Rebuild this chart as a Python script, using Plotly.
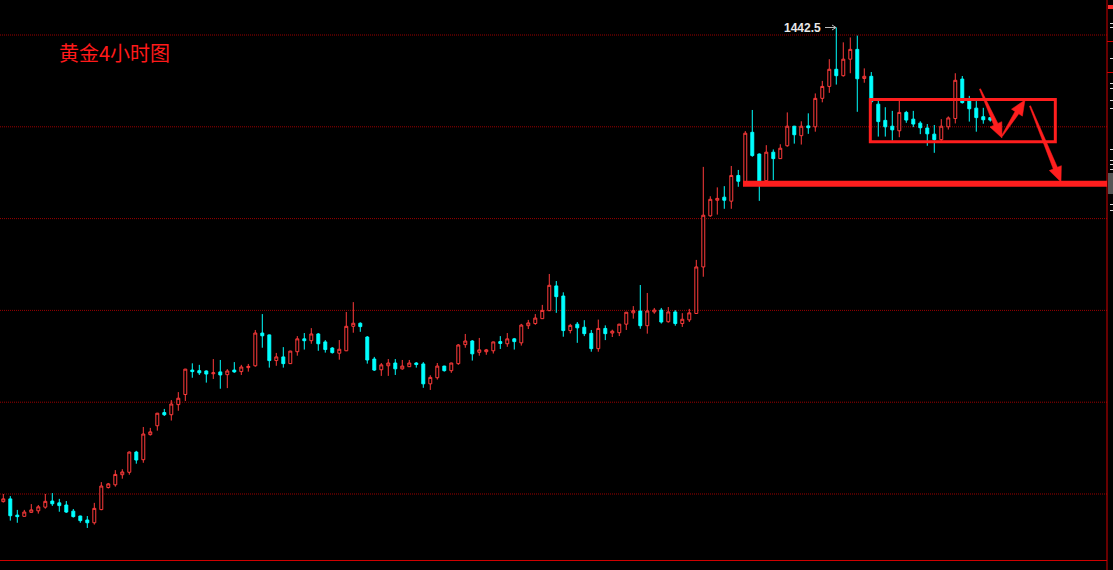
import plotly.graph_objects as go

W, H = 1113, 570

# ---------------- data (gold 4h candles) ----------------
opens = [1287.5, 1288.4, 1283.1, 1282.7, 1284.0, 1284.5, 1285.7, 1287.7, 1287.1, 1286.4,
         1284.4, 1282.8, 1281.5, 1280.6, 1284.9, 1292.1, 1293.0, 1296.3, 1297.1, 1303.7,
         1301.2, 1309.4, 1312.3, 1316.6, 1315.9, 1319.2, 1322.5, 1330.5, 1330.3, 1330.2,
         1329.3, 1329.9, 1329.0, 1330.5, 1330.0, 1331.3, 1331.9, 1342.6, 1342.0, 1333.6,
         1334.8, 1332.6, 1336.5, 1340.7, 1340.1, 1342.3, 1339.7, 1337.7, 1336.0, 1336.8,
         1344.8, 1345.8, 1341.3, 1334.1, 1330.6, 1331.9, 1332.8, 1330.9, 1331.6, 1332.8,
         1332.5, 1326.0, 1328.0, 1331.8, 1330.3, 1332.6, 1338.8, 1340.0, 1336.3, 1336.5,
         1336.8, 1339.8, 1339.1, 1340.7, 1339.4, 1345.0, 1345.7, 1347.3, 1349.9, 1358.0,
         1354.7, 1343.4, 1345.5, 1344.5, 1342.5, 1337.5, 1344.1, 1342.6, 1342.7, 1345.5,
         1349.2, 1349.8, 1345.0, 1349.5, 1350.1, 1346.3, 1349.5, 1345.7, 1346.9, 1349.0,
         1364.2, 1380.9, 1386.0, 1387.0, 1385.7, 1394.1, 1391.6, 1408.2, 1401.1, 1392.4,
         1401.7, 1399.6, 1403.8, 1410.2, 1407.1, 1410.3, 1410.0, 1419.3, 1423.2, 1428.8,
         1426.7, 1432.1, 1435.3, 1425.8, 1426.5, 1417.4, 1412.1, 1410.2, 1408.7, 1414.7,
         1412.5, 1411.2, 1409.6, 1407.6, 1405.8, 1410.0, 1412.7, 1425.6, 1418.4, 1416.1,
         1413.3, 1413.0]
highs = [1290.0, 1289.3, 1284.8, 1284.8, 1286.7, 1286.4, 1290.0, 1290.3, 1288.4, 1287.7,
         1285.1, 1282.9, 1282.8, 1287.1, 1293.9, 1293.6, 1297.8, 1298.1, 1303.9, 1304.1,
         1311.9, 1311.6, 1316.5, 1317.8, 1320.7, 1323.3, 1330.9, 1332.7, 1332.2, 1330.4,
         1334.1, 1333.8, 1330.8, 1333.1, 1332.2, 1332.5, 1343.6, 1348.8, 1342.1, 1336.1,
         1338.0, 1336.8, 1341.6, 1342.6, 1344.2, 1342.6, 1340.3, 1338.0, 1340.3, 1349.5,
         1352.7, 1346.1, 1341.6, 1334.8, 1332.8, 1334.1, 1334.1, 1333.8, 1333.8, 1333.1,
         1333.1, 1328.8, 1332.8, 1331.9, 1332.9, 1339.0, 1342.3, 1340.3, 1341.0, 1337.4,
         1339.8, 1341.6, 1342.6, 1341.0, 1345.6, 1346.9, 1348.8, 1351.8, 1361.9, 1359.6,
         1355.9, 1345.6, 1346.2, 1346.8, 1343.6, 1347.0, 1345.1, 1343.7, 1345.6, 1349.5,
         1351.4, 1358.3, 1355.7, 1350.8, 1350.8, 1351.1, 1350.1, 1349.1, 1350.5, 1366.5,
         1396.9, 1387.3, 1390.2, 1390.6, 1397.2, 1395.9, 1408.6, 1415.5, 1401.3, 1404.0,
         1402.6, 1404.3, 1414.7, 1410.3, 1411.8, 1414.4, 1420.9, 1425.0, 1432.1, 1442.5,
         1437.6, 1439.2, 1439.8, 1429.1, 1427.9, 1418.8, 1416.4, 1415.2, 1418.7, 1415.2,
         1415.2, 1411.8, 1410.9, 1410.6, 1412.5, 1413.4, 1427.5, 1426.6, 1420.1, 1418.4,
         1416.2, 1413.1]
lows = [1287.2, 1281.3, 1280.6, 1282.6, 1283.9, 1283.6, 1285.2, 1286.1, 1284.2, 1283.8,
        1282.3, 1280.6, 1278.9, 1280.0, 1284.7, 1291.8, 1292.4, 1295.0, 1296.3, 1299.9,
        1300.2, 1309.1, 1310.7, 1315.5, 1314.0, 1317.2, 1320.4, 1328.0, 1328.9, 1326.4,
        1327.6, 1324.4, 1324.6, 1329.6, 1328.9, 1330.0, 1331.6, 1337.8, 1331.3, 1331.9,
        1331.3, 1332.5, 1335.2, 1337.2, 1339.1, 1336.8, 1336.2, 1335.9, 1333.9, 1336.7,
        1342.7, 1343.0, 1332.6, 1330.2, 1328.6, 1328.6, 1328.9, 1330.6, 1331.5, 1331.3,
        1324.7, 1324.0, 1327.4, 1330.0, 1329.6, 1332.2, 1337.8, 1333.6, 1335.2, 1335.5,
        1335.9, 1337.4, 1338.1, 1337.2, 1338.5, 1343.9, 1345.3, 1347.2, 1349.8, 1349.2,
        1341.4, 1342.5, 1339.4, 1341.6, 1336.5, 1336.5, 1340.3, 1341.3, 1341.6, 1343.6,
        1347.3, 1344.0, 1342.4, 1348.9, 1345.7, 1346.0, 1345.0, 1344.6, 1346.2, 1348.9,
        1361.0, 1380.6, 1381.3, 1383.2, 1383.2, 1390.4, 1390.7, 1400.2, 1385.8, 1392.3,
        1392.6, 1399.5, 1403.5, 1404.5, 1404.2, 1407.7, 1408.4, 1418.0, 1421.1, 1423.8,
        1426.4, 1427.5, 1414.9, 1424.4, 1417.4, 1406.8, 1406.8, 1405.5, 1406.6, 1411.3,
        1409.9, 1407.6, 1403.8, 1401.5, 1405.2, 1409.1, 1411.1, 1417.6, 1411.7, 1408.4,
        1411.0, 1411.7]
closes = [1288.4, 1282.9, 1282.6, 1284.1, 1284.8, 1285.8, 1287.6, 1286.8, 1286.2, 1284.1,
          1282.6, 1281.3, 1280.6, 1285.3, 1292.6, 1293.3, 1296.4, 1297.2, 1303.7, 1301.1,
          1309.6, 1310.3, 1316.4, 1315.9, 1319.4, 1321.3, 1330.8, 1330.0, 1329.6, 1329.2,
          1329.6, 1328.9, 1330.2, 1329.9, 1331.5, 1331.7, 1342.6, 1341.7, 1333.6, 1334.8,
          1332.6, 1336.7, 1340.7, 1340.1, 1342.3, 1339.1, 1337.2, 1336.2, 1337.3, 1344.8,
          1345.8, 1344.7, 1333.8, 1330.5, 1332.2, 1332.8, 1330.9, 1331.8, 1332.8, 1332.3,
          1326.0, 1328.1, 1331.8, 1330.3, 1332.8, 1338.7, 1340.0, 1335.8, 1337.1, 1337.1,
          1339.7, 1339.2, 1340.7, 1339.8, 1345.2, 1345.9, 1347.5, 1350.0, 1358.2, 1354.5,
          1343.4, 1345.1, 1344.3, 1342.4, 1337.5, 1344.1, 1342.4, 1343.2, 1345.5, 1349.4,
          1349.9, 1345.0, 1349.8, 1350.1, 1346.2, 1349.5, 1345.7, 1347.1, 1349.2, 1364.2,
          1381.1, 1386.3, 1386.6, 1386.0, 1394.1, 1392.2, 1407.9, 1400.6, 1392.2, 1401.7,
          1399.6, 1403.0, 1410.2, 1407.4, 1410.2, 1409.7, 1419.3, 1423.2, 1428.8, 1426.7,
          1432.1, 1435.3, 1425.7, 1426.5, 1418.2, 1411.7, 1410.0, 1409.0, 1414.7, 1412.2,
          1410.9, 1409.7, 1407.7, 1405.8, 1410.2, 1412.9, 1425.2, 1417.9, 1415.9, 1413.0,
          1412.3, 1412.2]
bar_index = list(range(len(opens)))

grid_prices = [1440, 1410, 1380, 1350, 1320, 1290]
title_text = "黄金4小时图"
peak_label = "1442.5"
peak_index = 119
peak_price = 1442.5

# user drawings (in price / bar units)
support_price = 1391.4
support_from_bar = 105.67
box_bars = (123.86, 150.29)
box_prices = (1405.1, 1418.9)

# ---------------- view mapping ----------------
X_RANGE = [-0.471, 158.53]
Y_RANGE = [1265.16, 1451.44]

RED = "#FF3B3B"
CYAN = "#00FFFF"
DRAW = "#FF1E1E"
GRID = "#9A0000"


def px(x, y):
    return x / W, 1 - y / H


def arrow_path(x0, y0, x1, y1, w0=1.2, w1=4.5, head_len=15, head_w=6.5):
    import math
    dx, dy = x1 - x0, y1 - y0
    L = math.hypot(dx, dy)
    ux, uy = dx / L, dy / L
    nx, ny = -uy, ux
    neck = (x1 - ux * head_len, y1 - uy * head_len)
    pts = [
        (x0 + nx * w0 / 2, y0 + ny * w0 / 2),
        (neck[0] + nx * w1 / 2, neck[1] + ny * w1 / 2),
        (neck[0] + nx * head_w, neck[1] + ny * head_w),
        (x1, y1),
        (neck[0] - nx * head_w, neck[1] - ny * head_w),
        (neck[0] - nx * w1 / 2, neck[1] - ny * w1 / 2),
        (x0 - nx * w0 / 2, y0 - ny * w0 / 2),
    ]
    s = ""
    for i, (a, b) in enumerate(pts):
        pxx, pyy = px(a, b)
        s += ("M" if i == 0 else "L") + f"{pxx:.5f},{pyy:.5f} "
    return s + "Z"


fig = go.Figure()
fig.add_trace(go.Candlestick(
    x=bar_index, open=opens, high=highs, low=lows, close=closes,
    increasing=dict(line=dict(color=RED, width=1), fillcolor="#000000"),
    decreasing=dict(line=dict(color=CYAN, width=1), fillcolor=CYAN),
    whiskerwidth=0, hoverinfo="skip", showlegend=False,
))

shapes = []
axis_right = 1107 / W
# grid lines
for g in grid_prices:
    shapes.append(dict(type="line", xref="paper", yref="y", x0=0, x1=axis_right, y0=g, y1=g,
                       line=dict(color=GRID, width=1, dash="1px,1px"), layer="below"))
# frame lines (bottom and right axis)
shapes.append(dict(type="line", xref="paper", yref="paper", x0=0, x1=axis_right,
                   y0=px(0, 560.5)[1], y1=px(0, 560.5)[1], line=dict(color="#D00000", width=1)))
shapes.append(dict(type="line", xref="paper", yref="paper", x0=axis_right, x1=axis_right,
                   y0=0, y1=1, line=dict(color="#D00000", width=1)))
for yy in (41.5, 72.5):
    shapes.append(dict(type="line", xref="paper", yref="paper", x0=axis_right, x1=1,
                       y0=px(0, yy)[1], y1=px(0, yy)[1], line=dict(color="#D00000", width=1)))
shapes.append(dict(type="rect", xref="paper", yref="paper", x0=1108 / W, x1=1,
                   y0=px(0, 9)[1], y1=px(0, 5)[1], fillcolor="#FF3030", line=dict(width=0)))
shapes.append(dict(type="rect", xref="paper", yref="paper", x0=1108 / W, x1=1,
                   y0=px(0, 194)[1], y1=px(0, 173)[1], fillcolor="#555555", line=dict(width=0)))
for yy in (23.5, 27.5, 58.5, 83.5, 88.5, 100.5, 108.5, 149.5, 160.5, 164.5, 169.5, 204.5, 210.5):
    shapes.append(dict(type="line", xref="paper", yref="paper", x0=1110 / W, x1=1,
                       y0=px(0, yy)[1], y1=px(0, yy)[1], line=dict(color="#DDDDDD", width=1)))

# support line
shapes.append(dict(type="line", xref="x", yref="y", x0=support_from_bar,
                   x1=X_RANGE[0] + (1107 / W) * (X_RANGE[1] - X_RANGE[0]),
                   y0=support_price, y1=support_price, line=dict(color=DRAW, width=6)))
# consolidation box
shapes.append(dict(type="rect", xref="x", yref="y", x0=box_bars[0], x1=box_bars[1],
                   y0=box_prices[0], y1=box_prices[1], line=dict(color=DRAW, width=3)))
# arrows (pixel positions of the hand drawing)
for (a, b, c, d) in [(980, 89, 1002, 138), (1002, 136, 1025, 100), (1030, 106, 1061, 182)]:
    shapes.append(dict(type="path", xref="paper", yref="paper", path=arrow_path(a, b, c, d),
                       fillcolor=DRAW, line=dict(color=DRAW, width=0.5)))
# peak arrow
shapes.append(dict(type="line", xref="paper", yref="paper", x0=825 / W, x1=836 / W,
                   y0=px(0, 27.5)[1], y1=px(0, 27.5)[1], line=dict(color="#BBBBBB", width=1)))
shapes.append(dict(type="path", xref="paper", yref="paper",
                   path=f"M{px(832, 25)[0]:.5f},{px(832, 25)[1]:.5f} L{px(836, 27.5)[0]:.5f},{px(836, 27.5)[1]:.5f} L{px(832, 30)[0]:.5f},{px(832, 30)[1]:.5f}",
                   line=dict(color="#BBBBBB", width=1)))

annotations = [
    dict(text=title_text, xref="paper", yref="paper", x=57 / W, y=px(0, 52)[1],
         xanchor="left", yanchor="middle", showarrow=False,
         font=dict(family="Noto Sans CJK SC", size=20, color="#FF1A1A")),
    dict(text=f"<b>{peak_label}</b>", xref="paper", yref="paper", x=823 / W, y=px(0, 27.5)[1],
         xanchor="right", yanchor="middle", showarrow=False,
         font=dict(family="Liberation Sans", size=12, color="#E8E8E8")),
]

fig.update_layout(
    width=W, height=H, margin=dict(l=0, r=0, t=0, b=0),
    paper_bgcolor="#000000", plot_bgcolor="#000000",
    xaxis=dict(range=X_RANGE, visible=False, rangeslider=dict(visible=False), fixedrange=True),
    yaxis=dict(range=Y_RANGE, visible=False, fixedrange=True),
    boxgap=0.4,
    shapes=shapes, annotations=annotations, showlegend=False,
)

fig.write_html("out.html", config={"displayModeBar": False},
               post_script="document.body.style.margin='0';document.body.style.padding='0';"
                           "document.body.style.background='#000';document.body.style.overflow='hidden';")
